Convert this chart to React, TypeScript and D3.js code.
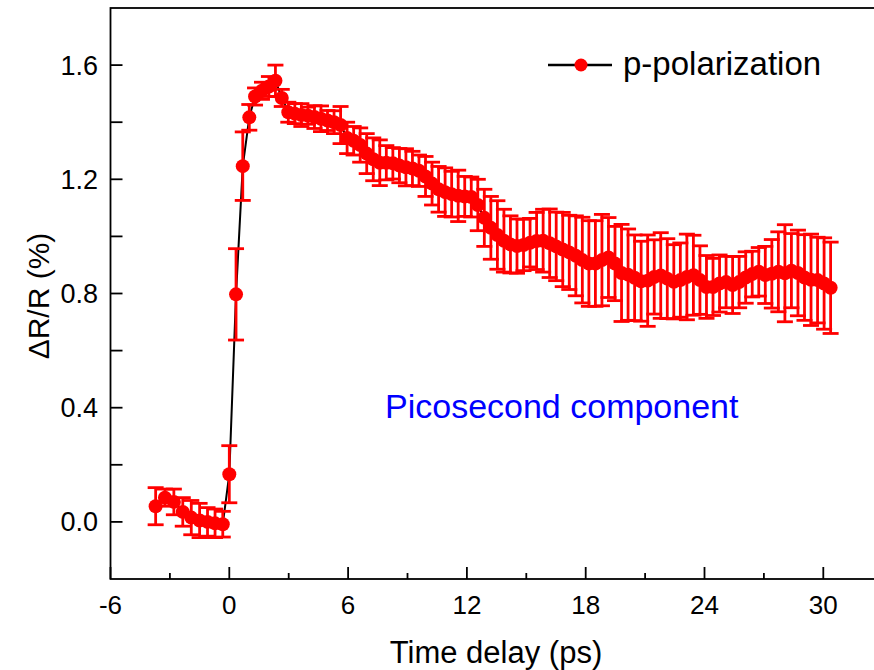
import React from "react";
import * as d3 from "d3";

// ---- data ----
const timeDelay: number[] = [
  -3.72, -3.25, -2.8, -2.35, -1.92, -1.5, -1.1, -0.72, -0.33,
  0.0, 0.34, 0.68, 1.01, 1.3, 1.65, 2.0, 2.33, 2.65, 2.98,
  3.31, 3.64, 3.97, 4.3, 4.63, 4.96, 5.29, 5.62, 5.95, 6.28, 6.61, 6.94, 7.27, 7.6,
  7.93, 8.26, 8.59, 8.92, 9.25, 9.58, 9.91, 10.24, 10.57, 10.9, 11.23, 11.56, 11.89, 12.22,
  12.55, 12.88, 13.21, 13.54, 13.87, 14.2, 14.53, 14.86, 15.19, 15.52, 15.85, 16.18, 16.51,
  16.84, 17.17, 17.5, 17.83, 18.16, 18.49, 18.82, 19.15, 19.48,
  19.81, 20.14, 20.47, 20.8, 21.13, 21.46, 21.79, 22.12, 22.45, 22.78, 23.11, 23.44, 23.77,
  24.1, 24.43, 24.76, 25.09, 25.42, 25.75, 26.08, 26.41, 26.74,
  27.07, 27.4, 27.73, 28.06, 28.39, 28.72, 29.05, 29.38, 29.71, 30.04, 30.37,
];

const deltaR: number[] = [
  0.055, 0.085, 0.07, 0.035, 0.015, 0.005, 0.0, -0.005, -0.008,
  0.167, 0.797, 1.246, 1.417, 1.49, 1.51, 1.525, 1.545, 1.485, 1.435,
  1.43, 1.425, 1.423, 1.418, 1.412, 1.406, 1.4, 1.39, 1.345, 1.335, 1.32, 1.29, 1.27, 1.258,
  1.258, 1.256, 1.248, 1.242, 1.238, 1.23, 1.21, 1.185, 1.165, 1.155, 1.148, 1.142, 1.14, 1.138,
  1.11, 1.065, 1.03, 1.005, 0.985, 0.972, 0.966, 0.97, 0.978, 0.984, 0.985, 0.976, 0.965,
  0.954, 0.944, 0.932, 0.917, 0.905, 0.905, 0.917, 0.926, 0.905,
  0.872, 0.866, 0.855, 0.843, 0.845, 0.858, 0.863, 0.852, 0.841, 0.847, 0.858, 0.864, 0.847,
  0.823, 0.823, 0.835, 0.84, 0.83, 0.84, 0.856, 0.868, 0.876,
  0.865, 0.869, 0.876, 0.871, 0.88, 0.872, 0.856, 0.848, 0.847, 0.835, 0.82,
];

const errorBar: number[] = [
  0.065, 0.03, 0.045, 0.05, 0.06, 0.06, 0.05, 0.05, 0.045,
  0.1, 0.16, 0.12, 0.045, 0.03, 0.03, 0.035, 0.055, 0.03, 0.035,
  0.035, 0.04, 0.03, 0.04, 0.045, 0.035, 0.04, 0.065, 0.055, 0.05, 0.06, 0.07, 0.075, 0.08,
  0.06, 0.055, 0.06, 0.065, 0.06, 0.055, 0.07, 0.075, 0.08, 0.085, 0.08, 0.09, 0.07, 0.07,
  0.09, 0.1, 0.11, 0.12, 0.11, 0.1, 0.095, 0.09, 0.085, 0.1, 0.11, 0.12, 0.12,
  0.13, 0.13, 0.14, 0.15, 0.15, 0.15, 0.16, 0.14, 0.13,
  0.17, 0.16, 0.15, 0.14, 0.16, 0.13, 0.15, 0.14, 0.13, 0.13, 0.15, 0.14, 0.12,
  0.11, 0.1, 0.1, 0.09, 0.1, 0.09, 0.09, 0.08, 0.085,
  0.1, 0.12, 0.14, 0.17, 0.13, 0.15, 0.15, 0.16, 0.15, 0.16, 0.16,
];

const xMajorTicks: number[] = [-6, 0, 6, 12, 18, 24, 30];
const xMinorTicks: number[] = [-3, 3, 9, 15, 21, 27];
const yMajorTicks: number[] = [0.0, 0.4, 0.8, 1.2, 1.6];
const yMinorTicks: number[] = [0.2, 0.6, 1.0, 1.4];

const seriesName = "p-polarization";
const annotation = "Picosecond component";
const xTitle = "Time delay (ps)";
const yTitle = "\u0394R/R (%)";

const W = 874;
const H = 670;
const FONT = "'Liberation Sans', Arial, Helvetica, sans-serif";
const RED = "#ff0000";

export default function App() {
  const x = d3.scaleLinear().domain([-6, 33]).range([110.5, 882.7]);
  const y = d3.scaleLinear().domain([-0.2, 1.8]).range([579, 8]);

  const pts = timeDelay.map((t, i) => ({ t, v: deltaR[i], e: errorBar[i] }));
  const line = d3
    .line<{ t: number; v: number }>()
    .x((d) => x(d.t))
    .y((d) => y(d.v));

  const [x0, x1] = x.range();
  const [yb, yt] = y.range();
  const cap = 8;

  return (
    <svg
      width={W}
      height={H}
      style={{ position: "absolute", left: 0, top: 0, background: "#fff" }}
      fontFamily={FONT}
    >
      <rect x={0} y={0} width={W} height={H} fill="#fff" />

      {/* frame */}
      <rect x={x0} y={yt} width={x1 - x0} height={yb - yt} fill="none" stroke="#000" strokeWidth={1.8} />

      {/* x ticks */}
      {xMajorTicks.map((t) => (
        <line key={"xM" + t} x1={x(t)} x2={x(t)} y1={yb} y2={yb - 12} stroke="#000" strokeWidth={1.8} />
      ))}
      {xMinorTicks.map((t) => (
        <line key={"xm" + t} x1={x(t)} x2={x(t)} y1={yb} y2={yb - 6} stroke="#000" strokeWidth={1.8} />
      ))}
      {xMajorTicks.map((t) => (
        <text key={"xl" + t} x={x(t)} y={614} fontSize={26} textAnchor="middle" fill="#000">
          {t}
        </text>
      ))}

      {/* y ticks */}
      {[...yMajorTicks, ...yMinorTicks].map((v) => (
        <line key={"y" + v} x1={x0} x2={x0 + 12} y1={y(v)} y2={y(v)} stroke="#000" strokeWidth={1.8} />
      ))}
      {yMajorTicks.map((v) => (
        <text key={"yl" + v} x={98} y={y(v) + 9.5} fontSize={27} textAnchor="end" fill="#000">
          {v.toFixed(1)}
        </text>
      ))}

      {/* axis titles */}
      <text x={496} y={663} fontSize={31} textAnchor="middle" fill="#000">
        {xTitle}
      </text>
      <text
        transform={`translate(49, ${296}) rotate(-90)`}
        fontSize={30}
        textAnchor="middle"
        fill="#000"
      >
        {yTitle}
      </text>

      {/* data */}
      <path d={line(pts) || ""} fill="none" stroke="#000" strokeWidth={2} />
      {pts.map((d, i) => (
        <g key={"e" + i} stroke={RED} strokeWidth={2.8}>
          <line x1={x(d.t)} x2={x(d.t)} y1={y(d.v + d.e)} y2={y(d.v - d.e)} />
          <line x1={x(d.t) - cap} x2={x(d.t) + cap} y1={y(d.v + d.e)} y2={y(d.v + d.e)} />
          <line x1={x(d.t) - cap} x2={x(d.t) + cap} y1={y(d.v - d.e)} y2={y(d.v - d.e)} />
        </g>
      ))}
      {pts.map((d, i) => (
        <circle key={"c" + i} cx={x(d.t)} cy={y(d.v)} r={7} fill={RED} />
      ))}

      {/* legend */}
      <line x1={548} x2={612} y1={65} y2={65} stroke="#000" strokeWidth={2.5} />
      <circle cx={581} cy={65} r={6.5} fill={RED} />
      <text x={623} y={75} fontSize={33} fill="#000">
        {seriesName}
      </text>

      {/* annotation */}
      <text x={385} y={418} fontSize={34} fill="#0000ff">
        {annotation}
      </text>
    </svg>
  );
}
